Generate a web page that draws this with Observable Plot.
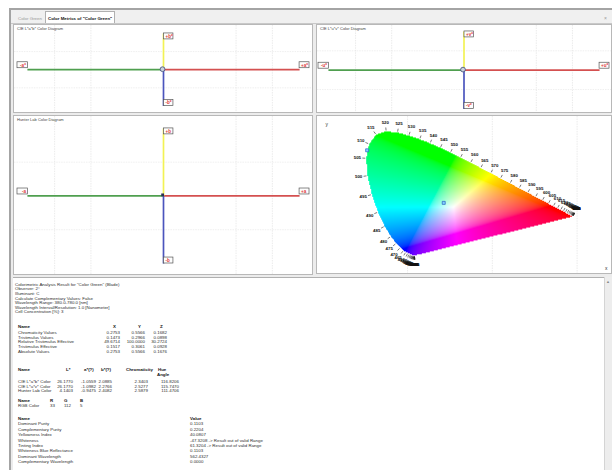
<!DOCTYPE html>
<html><head><meta charset="utf-8">
<script src="https://cdn.jsdelivr.net/npm/d3@7"></script>
<script src="https://cdn.jsdelivr.net/npm/@observablehq/plot@0.6"></script>
<style>
html,body{margin:0;padding:0;background:#fff;width:612px;height:470px;overflow:hidden;font-family:"Liberation Sans",Arial,sans-serif;}
.abs{position:absolute;}
#frame{left:9px;top:8px;width:603px;height:462px;background:#ececec;border-left:2px solid #a4a4a4;border-top:2px solid #a4a4a4;box-sizing:border-box;}
.panel{position:absolute;background:#fff;border:1px solid #b8b8b8;box-sizing:border-box;overflow:hidden}
.panel svg{position:absolute;left:0;top:0}
.ptitle{position:absolute;left:3px;top:1px;font-size:4px;color:#444;white-space:nowrap;z-index:2}
.t{position:absolute;font-size:4.4px;line-height:4.4px;color:#2e2e2e;white-space:nowrap}
.b{font-weight:bold;color:#111}
.r{transform:translateX(-100%)}
</style></head>
<body>
<div id="frame" class="abs"></div>
<div class="abs" style="left:11px;top:10px;width:601px;height:13px;background:#f0f0f0;border-bottom:1px solid #c8c8c8;"></div>
<div class="abs" style="left:45px;top:11px;width:70px;height:12px;background:#fff;border:1px solid #b0b0b0;border-bottom:none;box-sizing:border-box"></div>
<div class="t" style="left:18px;top:17px;color:#999">Color Green</div>
<div class="t b" style="left:48px;top:17px;">Color Metrics of "Color Green"</div>
<div class="t" style="left:604px;top:16px;color:#999;font-size:5px">×</div>
<div id="p1" class="panel" style="left:13px;top:24px;width:300px;height:89px"><div class="ptitle">CIE L*a*b* Color Diagram</div></div>
<div id="p2" class="panel" style="left:316px;top:24px;width:296px;height:89px"><div class="ptitle">CIE L*u*v* Color Diagram</div></div>
<div id="p3" class="panel" style="left:13px;top:115px;width:300px;height:160px"><div class="ptitle">Hunter Lab Color Diagram</div></div>
<div id="p4" class="panel" style="left:316px;top:115px;width:296px;height:159px"></div>
<div id="txt" class="abs" style="left:13px;top:277px;width:591px;height:193px;background:#fff;border-top:1px solid #b0b0b0;"></div>
<div class="abs" style="left:604px;top:277px;width:8px;height:193px;background:#ededed;border-left:1px solid #d4d4d4;box-sizing:border-box"></div>
<div class="t" style="left:606px;top:280px;color:#888;font-size:4px">▲</div>
<script>
// ---------- data ----------
const axisDirs = ["-x", "+x", "+y", "-y"];
const axisEndX = [-150, 150, 0, 0];
const axisEndY = [0, 0, 150, -150];
const gridX = [-120, -80, 80, 120];
const gridY = [-75, 75];
const labLabels = ["-a*", "+a*", "+b*", "-b*"];
const luvLabels = ["-u*", "+u*", "+v*", "-v*"];
const hunterLabels = ["-a", "+a", "+b", "-b"];
const sampleLab = [[-1.0559, 2.0885]];
const sampleLuv = [[-1.0982, 2.2766]];
const sampleHunter = [[-0.9475, 2.4082]];

const wavelengths = [380,385,390,395,400,405,410,415,420,425,430,435,440,445,450,455,460,465,470,475,480,485,490,495,500,505,510,515,520,525,530,535,540,545,550,555,560,565,570,575,580,585,590,595,600,605,610,615,620,625,630,635,640,645,650,655,660,665,670,675,680,685,690,695,700];
const locusX = [0.1741,0.1740,0.1738,0.1736,0.1733,0.1730,0.1726,0.1721,0.1714,0.1703,0.1689,0.1669,0.1644,0.1611,0.1566,0.1510,0.1440,0.1355,0.1241,0.1096,0.0913,0.0687,0.0454,0.0235,0.0082,0.0039,0.0139,0.0389,0.0743,0.1142,0.1547,0.1929,0.2296,0.2658,0.3016,0.3373,0.3731,0.4087,0.4441,0.4788,0.5125,0.5448,0.5752,0.6029,0.6270,0.6482,0.6658,0.6801,0.6915,0.7006,0.7079,0.7140,0.7190,0.7230,0.7260,0.7283,0.7300,0.7311,0.7320,0.7327,0.7334,0.7340,0.7344,0.7346,0.7347];
const locusY = [0.0050,0.0050,0.0049,0.0049,0.0048,0.0048,0.0048,0.0048,0.0051,0.0058,0.0069,0.0086,0.0109,0.0138,0.0177,0.0227,0.0297,0.0399,0.0578,0.0868,0.1327,0.2007,0.2950,0.4127,0.5384,0.6548,0.7502,0.8120,0.8338,0.8262,0.8059,0.7816,0.7543,0.7243,0.6923,0.6589,0.6245,0.5896,0.5547,0.5202,0.4866,0.4544,0.4242,0.3965,0.3725,0.3514,0.3340,0.3197,0.3083,0.2993,0.2920,0.2859,0.2809,0.2770,0.2740,0.2717,0.2700,0.2689,0.2680,0.2673,0.2666,0.2660,0.2656,0.2654,0.2653];
const chromaGridX = [0.15, 0.45, 0.75];
const markerX = [0.278, 0.007];
const markerY = [0.357, 0.708];

const infoLines = [
  'Colorimetric Analysis Result for "Color Green" (Blade)',
  "Observer: 2°",
  "Illuminant: C",
  "Calculate Complementary Values: False",
  "Wavelength Range: 380.0-780.0 [nm]",
  "Wavelength Interval/Resolution: 1.0 [Nanometer]",
  "Cell Concentration [%]:   3"
];
const t1Head = ["Name", "X", "Y", "Z"];
const t1Rows = [
  ["Chromaticity Values", "0.2753", "0.5566", "0.1682"],
  ["Tristimulus Values", "0.1473", "0.2966", "0.0898"],
  ["Relative Tristimulus Effective", "49.6714", "100.0000", "30.2724"],
  ["Tristimulus Effective", "0.1517", "0.3061", "0.0928"],
  ["Absolute Values", "0.2753", "0.5566", "0.1676"]
];
const t2Head = ["Name", "L*", "a*(?)", "b*(?)", "Chromaticity", "Hue"];
const t2Rows = [
  ["CIE L*a*b* Color", "26.1770", "-1.0559", "2.0885", "2.3403", "116.8206"],
  ["CIE L*u*v* Color", "26.1770", "-1.0982", "2.2766", "2.5277", "115.7470"],
  ["Hunter Lab Color", "4.1403", "-0.9475", "2.4082", "2.5879", "111.4706"]
];
const t3Head = ["Name", "R", "G", "B"];
const t3Rows = [["RGB Color", "33", "112", "5"]];
const t4Head = ["Name", "Value"];
const t4Rows = [
  ["Dominant Purity", "0.1103"],
  ["Complementary Purity", "0.2204"],
  ["Yellowness Index", "40.0807"],
  ["Whiteness", "-47.3208 -> Result out of valid Range"],
  ["Tinting Index", "61.3204 -> Result out of valid Range"],
  ["Whiteness Blue Reflectance", "0.1103"],
  ["Dominant Wavelength", "562.4327"],
  ["Complementary Wavelength", "0.0000"]
];

// ---------- axis diagrams ----------
const axisColors = ["#4f9f4f", "#d45050", "#f2f255", "#4b55bd"];
const labelCfg = [
  {anchor: "end", dx: -1.5, dy: -4.5, box: [-10, 0.5, -7.5, -1.5]},
  {anchor: "start", dx: 1.5, dy: -4.5, box: [0, 10, -7.5, -1.5]},
  {anchor: "start", dx: 2, dy: 3, box: [0.5, 10, 0, 6]},
  {anchor: "start", dx: 2, dy: -3, box: [0.5, 10, -6, 0]}
];
function axisPlot(w, h, xr, yr, labels, sample, squareMarker) {
  const marks = [
    Plot.ruleX(gridX, {stroke: "#e2e2e2", strokeWidth: 0.7, strokeDasharray: "1.5,1"}),
    Plot.ruleY(gridY, {stroke: "#e8e8e8", strokeWidth: 0.7, strokeDasharray: "1.5,1"}),
    Plot.link(axisDirs, {x1: 0, y1: 0, x2: (d, i) => axisEndX[i], y2: (d, i) => axisEndY[i], stroke: d => d, strokeWidth: 1.7})
  ];
  labelCfg.forEach((c, i) => {
    marks.push(Plot.rect([i], {x1: j => axisEndX[j], x2: j => axisEndX[j], y1: j => axisEndY[j], y2: j => axisEndY[j],
      insetLeft: c.box[0], insetRight: -c.box[1], insetTop: c.box[2], insetBottom: -c.box[3],
      fill: "#fdfdfd", stroke: "#555", strokeWidth: 0.7}));
    marks.push(Plot.text([i], {x: j => axisEndX[j], y: j => axisEndY[j], text: j => labels[j],
      textAnchor: c.anchor, dx: c.dx, dy: c.dy, fill: "#e03a3a", fontSize: 4.6, fontWeight: "bold"}));
  });
  if (squareMarker) {
    marks.push(Plot.dot(sample, {x: d => d[0], y: d => d[1], symbol: "square", r: 1.6, fill: "#2a2f55"}));
  } else {
    marks.push(Plot.dot(sample, {x: d => d[0], y: d => d[1], r: 2.4, stroke: "#4d5a80", strokeWidth: 0.9, fill: "#c8d0dc"}));
  }
  return Plot.plot({
    width: w, height: h, margin: 0,
    x: {type: "linear", domain: [-150, 150], range: xr, axis: null},
    y: {type: "linear", domain: [-150, 150], range: yr, axis: null},
    color: {domain: axisDirs, range: axisColors},
    style: {background: "transparent", fontFamily: "Liberation Sans, Arial, sans-serif"},
    marks
  });
}
document.getElementById("p1").appendChild(axisPlot(300, 89, [13, 287], [81, 8], labLabels, sampleLab, false));
document.getElementById("p2").appendChild(axisPlot(296, 89, [11, 284], [84, 6], luvLabels, sampleLuv, false));
document.getElementById("p3").appendChild(axisPlot(300, 160, [13, 287], [148, 12], hunterLabels, sampleHunter, true));

// ---------- chromaticity diagram ----------
const KX = 284.5, KY = 150.8, X0 = 48, Y0 = 140.8;
const locusPoly = wavelengths.map((w, i) => [locusX[i], locusY[i]]);
function gam(c) { return c <= 0.0031308 ? 12.92 * c : 1.055 * Math.pow(c, 1 / 2.4) - 0.055; }
function chromaColor(x, y) {
  if (y <= 0 || !d3.polygonContains(locusPoly, [x, y])) return null;
  const X = x / y, Y = 1, Z = (1 - x - y) / y;
  let r = Math.max(0, 3.2406 * X - 1.5372 * Y - 0.4986 * Z);
  let g = Math.max(0, -0.9689 * X + 1.8758 * Y + 0.0415 * Z);
  let b = Math.max(0, 0.0557 * X - 0.2040 * Y + 1.0570 * Z);
  const m = Math.max(r, g, b) || 1;
  r = Math.round(255 * gam(r / m)); g = Math.round(255 * gam(g / m)); b = Math.round(255 * gam(b / m));
  return `rgb(${r},${g},${b})`;
}
const N = wavelengths.length;
const normals = wavelengths.map((w, i) => {
  const a = Math.max(0, i - 1), b = Math.min(N - 1, i + 1);
  const tx = (locusX[b] - locusX[a]) * KX, ty = -(locusY[b] - locusY[a]) * KY;
  const L = Math.hypot(tx, ty) || 1;
  return [ty / L, -tx / L];
});
const off = (i, px) => [locusX[i] + normals[i][0] * px / KX, locusY[i] - normals[i][1] * px / KY];
const idx = d3.range(N);
const p4 = Plot.plot({
  width: 296, height: 159, margin: 0,
  x: {type: "linear", domain: [0, 1], range: [X0, X0 + KX], axis: null},
  y: {type: "linear", domain: [0, 1], range: [Y0, Y0 - KY], axis: null},
  color: {type: "identity"},
  style: {background: "transparent", fontFamily: "Liberation Sans, Arial, sans-serif"},
  marks: [
    Plot.ruleX(chromaGridX, {stroke: "#e2e2e2", strokeWidth: 0.7, strokeDasharray: "1.5,1"}),
    Plot.raster({x1: 0, x2: 0.76, y1: 0, y2: 0.86, fill: chromaColor, pixelSize: 1}),
    Plot.link(idx, {x1: i => off(i, 1)[0], y1: i => off(i, 1)[1], x2: i => off(i, 4)[0], y2: i => off(i, 4)[1], stroke: "#222", strokeWidth: 0.6}),
    Plot.text(idx, {x: i => off(i, 9)[0], y: i => off(i, 9)[1], text: i => String(wavelengths[i]), fontSize: 4.4, fontWeight: "bold", fill: "#111"}),
    Plot.dot(markerX.map((v, i) => i), {x: i => markerX[i], y: i => markerY[i], symbol: "square", r: 1.7, stroke: "#2a5cc0", strokeWidth: 0.7, fill: "#7fd4ff"}),
    Plot.text(["y"], {frameAnchor: "top-left", dx: 8, dy: 6, text: d => d, fontSize: 5, fill: "#333"}),
    Plot.text(["x"], {frameAnchor: "bottom-right", dx: -4, dy: -4, text: d => d, fontSize: 5, fill: "#333"})
  ]
});
document.getElementById("p4").appendChild(p4);

// ---------- text area ----------
const txt = document.body;
function put(x, y, s, cls) {
  const d = document.createElement("div");
  d.className = "t" + (cls ? " " + cls : "");
  d.style.left = x + "px"; d.style.top = (y - 2.2) + "px";
  d.textContent = s; txt.appendChild(d);
}
infoLines.forEach((s, i) => put(15, 285 + i * 4.6, s, ""));
// table 1
const t1X = [18, 120, 145, 167];
t1Head.forEach((s, j) => put(j ? t1X[j] - 7 : 18, 327, s, "b"));
t1Rows.forEach((r, i) => r.forEach((s, j) => put(t1X[j], 333 + i * 4.7, s, j ? "r" : "")));
// table 2
const t2X = [18, 73, 96, 112, 148, 179];
const t2H = [18, 66, 84, 101, 126, 158];
t2Head.forEach((s, j) => put(t2H[j], 370, s, "b"));
put(157, 375, "Angle", "b");
t2Rows.forEach((r, i) => r.forEach((s, j) => put(t2X[j], 382 + i * 4.7, s, j ? "r" : "")));
// table 3
const t3X = [18, 50, 64, 80];
t3Head.forEach((s, j) => put(t3X[j], 401, s, "b"));
t3Rows.forEach((r) => r.forEach((s, j) => put(t3X[j], 406, s, "")));
// table 4
t4Head.forEach((s, j) => put(j ? 190 : 18, 419, s, "b"));
t4Rows.forEach((r, i) => r.forEach((s, j) => put(j ? 190 : 18, 424.5 + i * 5.4, s, "")));
</script>
</body></html>
